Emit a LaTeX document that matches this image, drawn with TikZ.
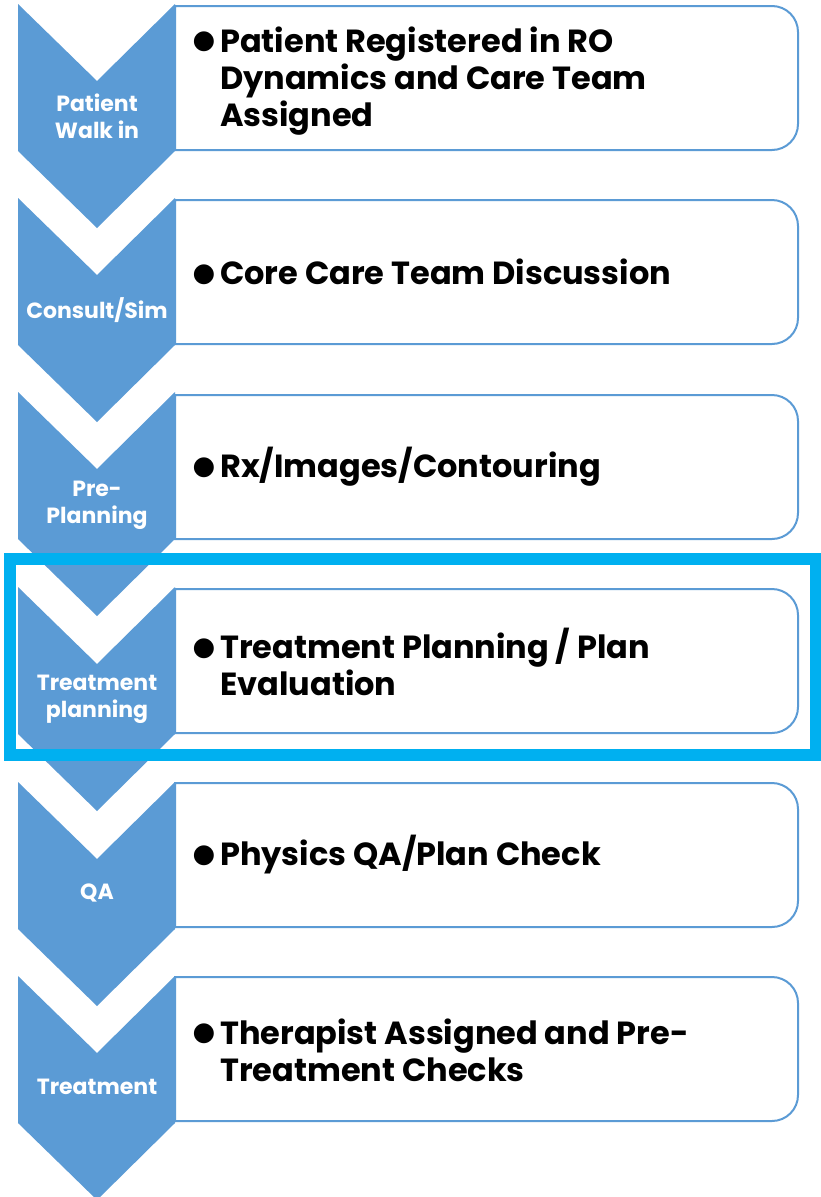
\documentclass[tikz,border=0pt]{standalone}
\usepackage{fontspec}
\usepackage{xcolor}
\usepackage{tikz}
\setmainfont{Poppins}
\newfontfamily\bulletfont{DejaVu Sans}
\definecolor{chevblue}{HTML}{5B9BD5}
\definecolor{focuscyan}{HTML}{00B0F0}
\newcommand{\itembul}{\llap{\raisebox{3.5pt}{\bulletfont\fontsize{26}{26}\selectfont ●}\hspace{5pt}}}

\tikzset{
  chev/.style={fill=chevblue},
  card/.style={draw=chevblue, line width=2pt, fill=white},
  steplabel/.style={white, font=\bfseries\fontsize{22}{27}\selectfont, align=center, inner sep=0pt},
  itemtext/.style={anchor=west, font=\bfseries\fontsize{32}{37}\selectfont, align=left, inner sep=0pt},
  focusbox/.style={draw=focuscyan, line width=12pt}
}

\begin{document}
\begin{tikzpicture}[x=1pt,y=-1pt]
  \path[use as bounding box, fill=white] (0,0) rectangle (821,1197);
  % cards on the right
  \draw[card] (175,6) -- (772,6) arc[start angle=-90,end angle=0,radius=26] -- (798,124) arc[start angle=0,end angle=90,radius=26] -- (175,150) -- cycle;
  \draw[card] (175,200) -- (772,200) arc[start angle=-90,end angle=0,radius=26] -- (798,318) arc[start angle=0,end angle=90,radius=26] -- (175,344) -- cycle;
  \draw[card] (175,395) -- (772,395) arc[start angle=-90,end angle=0,radius=26] -- (798,513) arc[start angle=0,end angle=90,radius=26] -- (175,539) -- cycle;
  \draw[card] (175,589) -- (772,589) arc[start angle=-90,end angle=0,radius=26] -- (798,707) arc[start angle=0,end angle=90,radius=26] -- (175,733) -- cycle;
  \draw[card] (175,783) -- (772,783) arc[start angle=-90,end angle=0,radius=26] -- (798,901) arc[start angle=0,end angle=90,radius=26] -- (175,927) -- cycle;
  \draw[card] (175,977) -- (772,977) arc[start angle=-90,end angle=0,radius=26] -- (798,1095) arc[start angle=0,end angle=90,radius=26] -- (175,1121) -- cycle;
  % chevrons on the left
  \fill[chev] (18,4) -- (97,81) -- (175,4) -- (175,151) -- (97,228) -- (18,151) -- cycle;
  \fill[chev] (18,198) -- (97,275) -- (175,198) -- (175,345) -- (97,422) -- (18,345) -- cycle;
  \fill[chev] (18,392) -- (97,469) -- (175,392) -- (175,539) -- (97,616) -- (18,539) -- cycle;
  \fill[chev] (18,587) -- (97,664) -- (175,587) -- (175,734) -- (97,811) -- (18,734) -- cycle;
  \fill[chev] (18,782) -- (97,859) -- (175,782) -- (175,929) -- (97,1006) -- (18,929) -- cycle;
  \fill[chev] (18,976) -- (97,1053) -- (175,976) -- (175,1123) -- (97,1200) -- (18,1123) -- cycle;
  \node[steplabel] (lab1) at (97,116) {Patient\\Walk in};
  \node[steplabel] (lab2) at (97,310) {Consult/Sim};
  \node[steplabel] (lab3) at (97,505) {Pre-\\Planning};
  \node[steplabel] (lab4) at (97,699) {Treatment\\planning};
  \node[steplabel] (lab5) at (97,893) {QA};
  \node[steplabel] (lab6) at (97,1087) {Treatment};
  % bullet texts
  \node[itemtext] (item1) at (220,81) {\itembul Patient Registered in RO\\Dynamics and Care Team\\Assigned};
  \node[itemtext] (item2) at (220,272) {\itembul Core Care Team Discussion};
  \node[itemtext] (item3) at (220,467) {\itembul Rx/Images/Contouring};
  \node[itemtext] (item4) at (220,662) {\itembul Treatment Planning / Plan\\Evaluation};
  \node[itemtext] (item5) at (220,855) {\itembul Physics QA/Plan Check};
  \node[itemtext] (item6) at (220,1050) {\itembul Therapist Assigned and Pre-\\Treatment Checks};
  % highlighted step
  \draw[focusbox] (10,559) rectangle (816,755);
\end{tikzpicture}
\end{document}
